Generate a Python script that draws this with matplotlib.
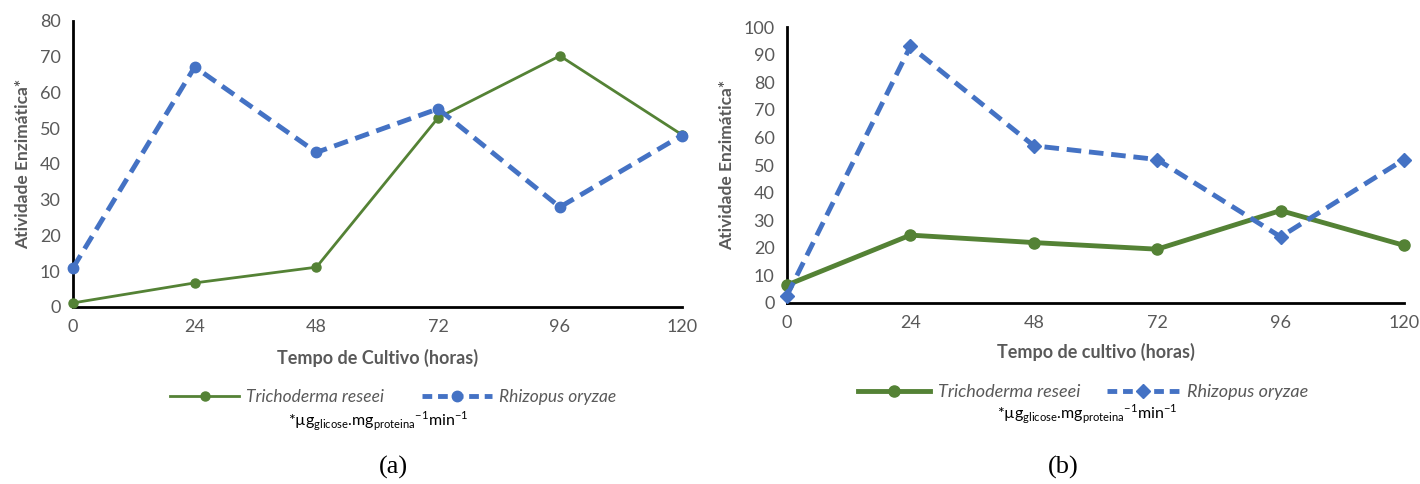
import matplotlib
matplotlib.use("Agg")
import matplotlib.pyplot as plt
from matplotlib.lines import Line2D

hours = [0, 24, 48, 72, 96, 120]
tick_labels = ["0", "24", "48", "72", "96", "120"]
series_names = ["Trichoderma reseei", "Rhizopus oryzae"]

a_tricho = [1.1, 6.7, 11.1, 52.9, 70.2, 48.2]
a_rhizo = [10.9, 67.1, 43.2, 55.4, 27.9, 47.9]

b_tricho = [6.5, 24.6, 21.9, 19.5, 33.5, 20.9]
b_rhizo = [2.7, 93.0, 57.0, 52.0, 24.0, 52.0]

GREEN = "#548235"
BLUE = "#4472C4"
GRAY = "#595959"

plt.rcParams['font.family'] = ['Lato', 'DejaVu Sans']

fig = plt.figure(figsize=(14.2, 4.84), dpi=100)

def style(ax, ymax, yticks):
    ax.set_xlim(0, 120)
    ax.set_ylim(0, ymax)
    ax.set_xticks(hours)
    ax.set_xticklabels(tick_labels)
    ax.set_yticks(yticks)
    for s in ["top", "right"]:
        ax.spines[s].set_visible(False)
    for s in ["left", "bottom"]:
        ax.spines[s].set_color("black")
        ax.spines[s].set_linewidth(2)
    ax.tick_params(length=0, labelsize=13, labelcolor=GRAY, pad=9)
    ax.set_ylabel("Atividade Enzimática*", fontsize=12.5, fontweight="bold", color=GRAY, labelpad=6)

# Panel (a)
ax1 = fig.add_axes([0.0514, 0.366, 0.4286, 0.591])
ax1.plot(hours, a_tricho, color=GREEN, lw=2, marker="o", ms=6.5, clip_on=False, zorder=3)
ax1.plot(hours, a_rhizo, color=BLUE, lw=3.5, ls=(0, (3, 1.6)), marker="o", ms=7.5, clip_on=False, zorder=3)
style(ax1, 80, range(0, 81, 10))
ax1.set_xlabel("Tempo de Cultivo (horas)", fontsize=13, fontweight="bold", color=GRAY, labelpad=10)

h1 = [Line2D([], [], color=GREEN, lw=2, marker="o", ms=6.5),
      Line2D([], [], color=BLUE, lw=3.5, ls=(0, (2, 1.2)), marker="o", ms=7.5)]
leg1 = fig.legend(h1, series_names, loc="center", bbox_to_anchor=(393 / 1420, 1 - 397 / 484),
                  ncol=2, frameon=False, handlelength=4, columnspacing=2.2, handletextpad=0.4,
                  prop={"family": "Lato", "style": "italic", "size": 12.5})
for t in leg1.get_texts():
    t.set_color(GRAY)

note = r'*µg$_{\mathregular{glicose}}$.mg$_{\mathregular{proteina}}$$^{\mathregular{-1}}$min$^{\mathregular{-1}}$'
fig.text(378 / 1420, 1 - 421 / 484, note, ha="center", va="center", fontsize=11.5, color="black")
fig.text(393 / 1420, 1 - 467 / 484, "(a)", ha="center", va="center", fontsize=19,
         family="Liberation Serif", color="black")

# Panel (b)
ax2 = fig.add_axes([0.5542, 0.374, 0.4345, 0.570])
ax2.plot(hours, b_tricho, color=GREEN, lw=3.5, marker="o", ms=8, clip_on=False, zorder=3)
ax2.plot(hours, b_rhizo, color=BLUE, lw=3.5, ls=(0, (3, 1.6)), marker="D", ms=7.5, clip_on=False, zorder=3)
style(ax2, 100, range(0, 101, 10))
ax2.set_xlabel("Tempo de cultivo (horas)", fontsize=13, fontweight="bold", color=GRAY, labelpad=8)

h2 = [Line2D([], [], color=GREEN, lw=3.5, marker="o", ms=8),
      Line2D([], [], color=BLUE, lw=3.5, ls=(0, (2, 1.2)), marker="D", ms=7)]
leg2 = fig.legend(h2, series_names, loc="center", bbox_to_anchor=(1083 / 1420, 1 - 392 / 484),
                  ncol=2, frameon=False, handlelength=4, columnspacing=1.5, handletextpad=0.4,
                  prop={"family": "Lato", "style": "italic", "size": 13})
for t in leg2.get_texts():
    t.set_color(GRAY)
fig.text(1087 / 1420, 1 - 414 / 484, note, ha="center", va="center", fontsize=11.5, color="black")
fig.text(1063 / 1420, 1 - 467 / 484, "(b)", ha="center", va="center", fontsize=19,
         family="Liberation Serif", color="black")

fig.savefig("out.png", dpi=100)
